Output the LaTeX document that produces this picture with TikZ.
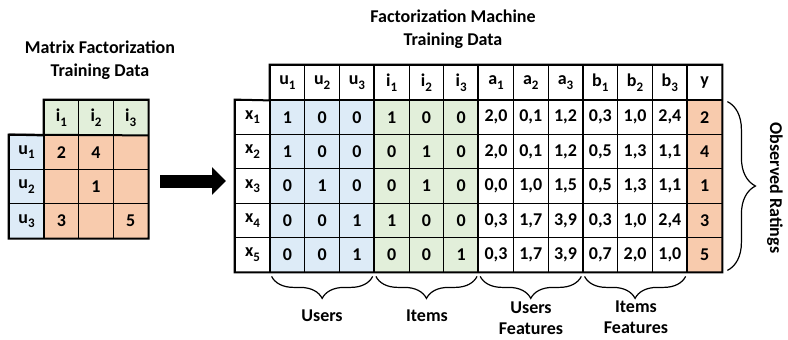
\documentclass[tikz,border=0pt]{standalone}
\usepackage{fontspec}
\setmainfont{Carlito}
\usepackage{xcolor}
\usetikzlibrary{calc, arrows.meta, decorations.pathreplacing}

\definecolor{userblue}{HTML}{DDEBF7}
\definecolor{itemgreen}{HTML}{E2EFDA}
\definecolor{rateorange}{HTML}{F8CBAD}
\newcommand{\lab}[2]{#1\raisebox{-4.5pt}{\fontsize{13}{13}\selectfont #2}}

\begin{document}
\begin{tikzpicture}[x=1pt, y=-1pt, font=\bfseries\fontsize{18}{23.5}\selectfont]
   \tikzstyle{cell}=[draw, line width=.8pt, minimum width=34.77pt, minimum height=34.4pt, inner sep=0pt]
   \tikzstyle{hcell}=[cell, minimum height=35pt]
   \tikzstyle{bold}=[line width=2pt]
   \tikzstyle{bbrace}=[decorate, decoration={brace, amplitude=22pt, mirror}, line width=1.2pt]
   \tikzstyle{rbrace}=[decorate, decoration={brace, amplitude=28pt}, line width=1.2pt]
   \useasboundingbox (0,0) rectangle (788,340);
   %% titles
\node[align=center] (mftitle) at (100,60) {Matrix Factorization\\Training Data};
\node[align=center] (fmtitle) at (453,29) {Factorization Machine\\Training Data};
   %% matrix factorization table
\foreach \c in {1,2,3}
  \node[hcell, fill=itemgreen] (mi\c) at ({44+34.7*(\c-.5)},117.5) {\lab{i}{\c}};
\foreach \r in {1,2,3}
  \node[cell, minimum width=35pt, fill=userblue] (mu\r) at (26.5,{135+34.4*(\r-.5)}) {\lab{u}{\r}};
\foreach \r/\row in {1/{2,4,{}},2/{{},1,{}},3/{3,{},5}}
  \foreach \v [count=\c] in \row
    \node[cell, fill=rateorange] (mr\r-\c) at ({44+34.7*(\c-.5)},{135+34.4*(\r-.5)}) {\v};
\draw[bold] (mi1.north west) -- (mi3.north east) -- (mr3-3.south east) -- (mu3.south west) -- (mu1.north west) -- (mi1.south west) -- cycle;
\draw[bold] (mu1.north west) -- (mi3.south east);
\draw[bold] (mi1.south west) -- (mr3-1.south west);
   %% arrow
\coordinate (arrtail) at (160,181);
\coordinate (arrtip) at (226,181);
\draw[-{Triangle[length=14pt, width=27pt]}, line width=13pt] (arrtail) -- (arrtip);
   %% factorization machine table
\fill[userblue] (270,100) rectangle (374.3,272);
\fill[itemgreen] (374.3,100) rectangle (478.6,272);
\fill[rateorange] (687.2,100) rectangle (722,272);
\foreach \h [count=\c] in {\lab{u}{1},\lab{u}{2},\lab{u}{3},\lab{i}{1},\lab{i}{2},\lab{i}{3},
    \lab{a}{1},\lab{a}{2},\lab{a}{3},\lab{b}{1},\lab{b}{2},\lab{b}{3},y}
  \node[hcell] (h\c) at ({270+34.77*(\c-.5)},82.5) {\h};
\foreach \r in {1,...,5}
  \node[cell, minimum width=35pt] (x\r) at (252.5,{100+34.4*(\r-.5)}) {\lab{x}{\r}};
\foreach \r/\row in {
    1/{1,0,0,1,0,0,2{,}0,0{,}1,1{,}2,0{,}3,1{,}0,2{,}4,2},
    2/{1,0,0,0,1,0,2{,}0,0{,}1,1{,}2,0{,}5,1{,}3,1{,}1,4},
    3/{0,1,0,0,1,0,0{,}0,1{,}0,1{,}5,0{,}5,1{,}3,1{,}1,1},
    4/{0,0,1,1,0,0,0{,}3,1{,}7,3{,}9,0{,}3,1{,}0,2{,}4,3},
    5/{0,0,1,0,0,1,0{,}3,1{,}7,3{,}9,0{,}7,2{,}0,1{,}0,5}}
  \foreach \v [count=\c] in \row
    \node[cell] (x\r-\c) at ({270+34.77*(\c-.5)},{100+34.4*(\r-.5)}) {\v};
\draw[bold] (h1.north west) -- (h13.north east) -- (x5-13.south east) -- (x5.south west) -- (x1.north west) -- (h1.south west) -- cycle;
\draw[bold] (x1.north east) -- (x1-13.north east);
\foreach \c in {1,4,7,10,13}
  \draw[bold] (h\c.north west) -- (x5-\c.south west);
   %% braces
\draw[bbrace] ($(x5-1.south west)+(2,4)$) -- ($(x5-3.south east)+(-2,4)$);
\draw[bbrace] ($(x5-4.south west)+(2,4)$) -- ($(x5-6.south east)+(-2,4)$);
\draw[bbrace] ($(x5-7.south west)+(2,4)$) -- ($(x5-9.south east)+(-2,4)$);
\draw[bbrace] ($(x5-10.south west)+(2,4)$) -- ($(x5-12.south east)+(-2,4)$);
\draw[rbrace] ($(x1-13.north east)+(5,2)$) -- ($(x5-13.south east)+(5,-2)$);
\node (users) at (322,316) {Users};
\node (items) at (427,316) {Items};
\node[align=center, font=\bfseries\fontsize{18}{21}\selectfont] (ufeat) at (531,318) {Users\\Features};
\node[align=center, font=\bfseries\fontsize{18}{21}\selectfont] (ifeat) at (636,317) {Items\\Features};
\node[rotate=-90] (obs) at (775,188) {Observed Ratings};
    \end{tikzpicture}
\end{document}
